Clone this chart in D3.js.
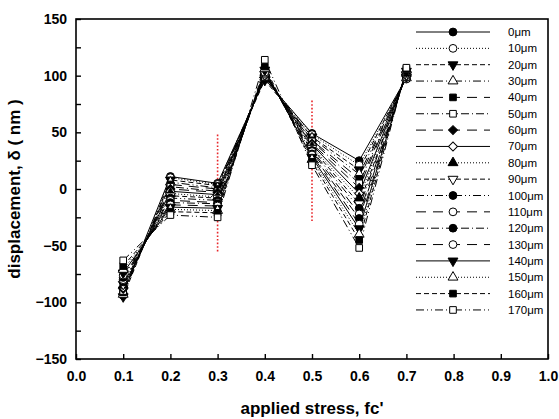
<!DOCTYPE html>
<html><head><meta charset="utf-8">
<script src="https://cdn.jsdelivr.net/npm/d3@7"></script>
<style>body{margin:0;background:#fff}svg{display:block}</style>
</head><body>
<script>
const stress = [0.1,0.2,0.3,0.4,0.5,0.6,0.7];
const depths = ["0μm","10μm","20μm","30μm","40μm","50μm","60μm","70μm","80μm","90μm","100μm","110μm","120μm","130μm","140μm","150μm","160μm","170μm"];
const d0   = [-92, 11,  5,  97, 49,  25,  98];
const d10  = [-94, 10,  4,  98, 48,  21,  97];
const d20  = [-95,  8,  3,  96, 46,  17,  99];
const d30  = [-93,  6,  1,  99, 45,  13,  98];
const d40  = [-91,  4,  0, 100, 43,   9, 100];
const d50  = [-90,  2, -2,  99, 42,   5,  99];
const d60  = [-88,  0, -3, 101, 40,   1, 101];
const d70  = [-87, -2, -5, 100, 39,  -4, 100];
const d80  = [-85, -4, -7, 102, 37,  -8, 102];
const d90  = [-84, -6, -8, 101, 36, -13, 101];
const d100 = [-82, -8,-10, 103, 34, -17, 103];
const d110 = [-80,-10,-12, 102, 33, -22, 102];
const d120 = [-78,-12,-13, 104, 31, -26, 103];
const d130 = [-76,-14,-15, 103, 30, -31, 104];
const d140 = [-74,-16,-17, 105, 28, -35, 104];
const d150 = [-71,-18,-19, 106, 26, -40, 105];
const d160 = [-68,-20,-21, 108, 24, -45, 106];
const d170 = [-63,-23,-25, 114, 21, -52, 107];
const seriesValues = [d0,d10,d20,d30,d40,d50,d60,d70,d80,d90,d100,d110,d120,d130,d140,d150,d160,d170];
const xTicks = [0,0.1,0.2,0.3,0.4,0.5,0.6,0.7,0.8,0.9,1.0];
const yTicks = [-150,-100,-50,0,50,100,150];
const yMinor = [-125,-75,-25,25,75,125];
const redLines = [{x:0.3,lo:-57,hi:48},{x:0.5,lo:-30,hi:78}];

const DASH = {solid:null, dot:"1,2", dash:"5,3", dashdotdot:"8,3,1,3,1,3", long:"10,7", dashdot:"8,3,1,3"};
const styles = [
 ["solid","circle",true],["dot","circle",false],["dash","tridown",true],["dashdotdot","triup",false],
 ["long","square",true],["dashdot","square",false],["long","diamond",true],["solid","diamond",false],
 ["dot","triup",true],["dash","tridown",false],["dashdotdot","circle",true],["long","circle",false],
 ["dashdot","circle",true],["long","circle",false],["solid","tridown",true],["dot","triup",false],
 ["dash","square",true],["dashdotdot","square",false]
];

const W=559,H=419;
const svg=d3.select("body").append("svg").attr("width",W).attr("height",H);
const x=d3.scaleLinear().domain([0,1]).range([76,548]);
const y=d3.scaleLinear().domain([-150,150]).range([359,19]);

function sym(type){
  if(type==="circle") return d3.symbol().type(d3.symbolCircle).size(48)();
  if(type==="square") return d3.symbol().type(d3.symbolSquare).size(44)();
  if(type==="diamond") return d3.symbol().type(d3.symbolSquare).size(40)();
  return d3.symbol().type(d3.symbolTriangle).size(42)();
}
function rot(type){ return type==="tridown"?180:(type==="diamond"?45:0); }

svg.selectAll(".red").data(redLines).enter().append("line")
 .attr("x1",d=>x(d.x)).attr("x2",d=>x(d.x)).attr("y1",d=>y(d.hi)).attr("y2",d=>y(d.lo))
 .attr("stroke","#e8262a").attr("stroke-width",1.6).attr("stroke-dasharray","1.6,2");

const line=d3.line().x((d,i)=>x(stress[i])).y(d=>y(d));
seriesValues.forEach((vals,si)=>{
  const st=styles[si];
  svg.append("path").attr("d",line(vals)).attr("fill","none").attr("stroke","#000")
   .attr("stroke-width",1).attr("stroke-dasharray",DASH[st[0]]);
});
seriesValues.forEach((vals,si)=>{
  const st=styles[si];
  svg.append("g").selectAll("path").data(vals).enter().append("path")
   .attr("d",sym(st[1]))
   .attr("transform",(d,i)=>`translate(${x(stress[i])},${y(d)}) rotate(${rot(st[1])})`)
   .attr("fill",st[2]?"#000":"#fff").attr("stroke","#000").attr("stroke-width",1);
});

svg.append("rect").attr("x",76).attr("y",19).attr("width",472).attr("height",340)
 .attr("fill","none").attr("stroke","#000").attr("stroke-width",1.6);

const font="'Liberation Sans', Arial, sans-serif";
svg.append("g").attr("transform","translate(0,359)")
 .call(d3.axisBottom(x).tickValues(xTicks).tickFormat(d3.format(".1f")).tickSizeInner(-5).tickSizeOuter(0).tickPadding(12));
svg.append("g").attr("transform","translate(76,0)")
 .call(d3.axisLeft(y).tickValues(yTicks).tickFormat(d3.format("d")).tickSizeInner(-5).tickSizeOuter(0).tickPadding(9));
svg.append("g").attr("transform","translate(76,0)")
 .call(d3.axisLeft(y).tickValues(yMinor).tickFormat("").tickSizeInner(-5).tickSizeOuter(0));
svg.selectAll(".domain").remove();
svg.selectAll(".tick line").attr("stroke","#000").attr("stroke-width",1.4);
svg.selectAll(".tick text").attr("font-family",font).attr("font-weight","bold").attr("font-size",14).attr("fill","#000");

svg.append("text").attr("x",312).attr("y",414).attr("text-anchor","middle")
 .attr("font-family",font).attr("font-weight","bold").attr("font-size",17).text("applied stress, fc'");
svg.append("text").attr("transform","translate(20,189) rotate(-90)").attr("text-anchor","middle")
 .attr("font-family",font).attr("font-weight","bold").attr("font-size",17).text("displacement, δ ( nm )");

const lg=svg.append("g");
depths.forEach((lab,i)=>{
  const st=styles[i]; const yy=32+i*16.35;
  lg.append("line").attr("x1",416).attr("x2",490).attr("y1",yy).attr("y2",yy)
   .attr("stroke","#000").attr("stroke-width",1).attr("stroke-dasharray",DASH[st[0]]);
  lg.append("path").attr("d",sym(st[1])).attr("transform",`translate(453,${yy}) rotate(${rot(st[1])})`)
   .attr("fill",st[2]?"#000":"#fff").attr("stroke","#000");
  lg.append("text").attr("x",508).attr("y",yy+4).attr("font-family",font).attr("font-size",11.5).text(lab);
});
</script>
</body></html>
